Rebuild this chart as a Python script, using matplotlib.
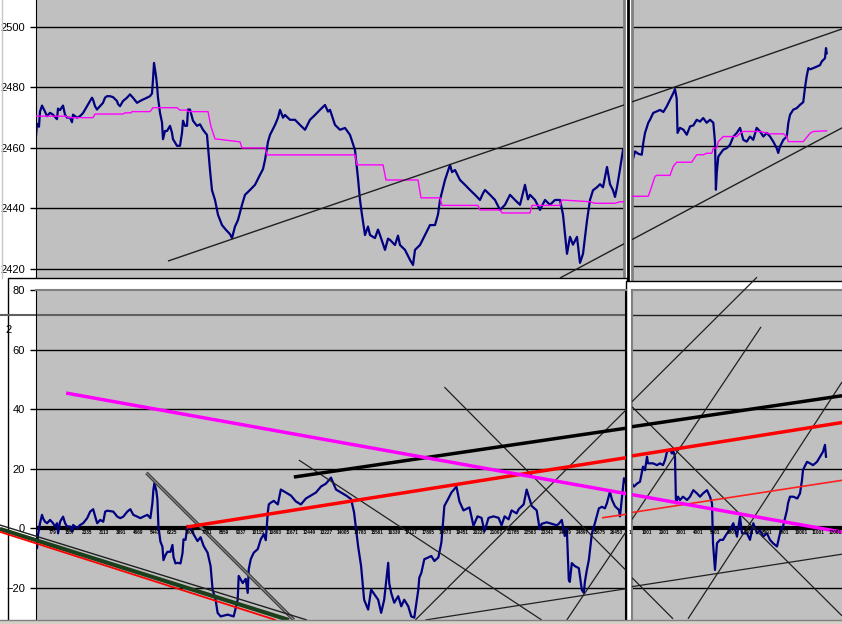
import matplotlib.pyplot as plt
from matplotlib.patches import Rectangle
from matplotlib.lines import Line2D

plt.rcParams['font.family'] = ['Liberation Sans', 'DejaVu Sans']

# ---- price panel, first session (bar index, price)
tl_x = [0, 46, 137, 183, 275, 412, 503, 641, 778, 961, 1007, 1098, 1236, 1327, 1419, 1556, 1647, 1693,
        1876, 2013, 2151, 2334, 2471, 2563, 2608, 2700, 2791, 2929, 3066, 3157, 3249, 3386, 3524, 3707,
        3752, 3844, 3981, 4164, 4301, 4439, 4622, 4759, 4896, 5079, 5217, 5308, 5354, 5400, 5491, 5537,
        5583, 5674, 5766, 5812, 5903, 5995, 6132, 6223, 6269, 6452, 6589, 6681, 6727, 6818, 6910, 6956,
        7047, 7184, 7367, 7505, 7642, 7825, 7962, 8054, 8191, 8328, 8511, 8694, 8877, 8969, 9106, 9244,
        9427, 9564, 9793, 10021, 10250, 10388, 10479, 10616, 10708, 10937, 11074, 11165, 11303, 11394,
        11623, 11852, 12081, 12309, 12538, 12767, 12996, 13225, 13362, 13453, 13682, 13911, 14140, 14369,
        14597, 14734, 14826, 14917, 15055, 15192, 15284, 15512, 15650, 15741, 15970, 16108, 16199, 16428,
        16565, 16657, 16885, 17114, 17252, 17343, 17572, 17801, 18029, 18258, 18396, 18487, 18716, 18945,
        19037, 19174, 19402, 19631, 19860, 20089, 20317, 20455, 20546, 20775, 21004, 21233, 21461, 21690,
        21919, 22148, 22376, 22514, 22605, 22834, 23063, 23292, 23520, 23749, 23978, 24115, 24298, 24436,
        24573, 24756, 24893, 25031, 25214, 25351, 25488, 25671, 25809, 25946, 26129, 26266, 26404, 26495,
        26587, 26724, 26861]
tl_price = [2464, 2468, 2467, 2472, 2474, 2472, 2470.5, 2471.6, 2471, 2469.5, 2473, 2472.5, 2474, 2471,
            2470, 2470, 2468.5, 2471, 2470, 2470.5, 2471.5, 2473.8, 2475.5, 2476.6, 2476, 2473.8, 2472.7,
            2473.8, 2474.9, 2476.6, 2477.1, 2477.1, 2476.8, 2475.5, 2474.5, 2473.8, 2475.5, 2476.6, 2477.7,
            2476.6, 2474.9, 2475.5, 2476, 2476.6, 2477.1, 2478, 2482.6, 2488.1, 2483.8, 2480.8, 2476.6,
            2471.6, 2468.4, 2462.9, 2465.6, 2465.6, 2467.3, 2465, 2462.9, 2460.7, 2460.7, 2465, 2469,
            2467.3, 2467.3, 2472.7, 2472.7, 2469, 2467.3, 2467.8, 2466, 2464.3, 2452.7, 2446, 2442.8,
            2437.9, 2434.5, 2432.9, 2431.5, 2430.2, 2434, 2436.2, 2441.2, 2444.5, 2446.1, 2447.8, 2451.1,
            2453, 2456, 2462, 2464.3, 2467.6, 2470, 2472.6, 2470, 2470.9, 2469.3, 2469.3, 2467.6, 2466,
            2469.3, 2470.9, 2472.6, 2474.2, 2472, 2472.6, 2467.6, 2466, 2466.6, 2464.3, 2459.3, 2450,
            2442.8, 2437.9, 2431.2, 2434, 2431.2, 2430.2, 2433, 2431.2, 2426.3, 2430, 2429.6, 2427.9, 2431,
            2427.9, 2426.3, 2423, 2421.3, 2426.3, 2427.9, 2431.2, 2434.5, 2434.5, 2438, 2442.8, 2449.4,
            2454.4, 2452, 2452.7, 2449.4, 2447.8, 2446.1, 2444.5, 2442.8, 2445, 2446.1, 2444.5, 2442.8,
            2439.5, 2441.2, 2444.5, 2442.8, 2441.2, 2447.8, 2443, 2444.5, 2442.8, 2439.5, 2442.8, 2441.2,
            2442.8, 2442.8, 2438, 2425, 2430.6, 2428, 2430.6, 2422, 2425, 2436, 2442.8, 2446, 2447, 2448,
            2447, 2453.7, 2448, 2446, 2443.8, 2447, 2453, 2459.3]
tl_avg_x = [0, 1373, 1464, 2608, 2700, 3981, 4073, 4347, 4393, 5217, 5354, 6452, 6589, 6910, 6956, 7871,
            8008, 8191, 9335, 9427, 10479, 10571, 14597, 14688, 15879, 16016, 17480, 17618, 18487, 18579,
            20226, 20317, 21233, 21324, 22605, 22697, 23978, 24069, 25351, 25580, 26495, 26724, 26907]
tl_avg = [2470.5, 2470.5, 2470, 2470, 2471.2, 2471.2, 2471.6, 2471.6, 2472, 2472, 2473.3, 2473.3, 2472.5,
          2472.5, 2472, 2472, 2467, 2463, 2462, 2460, 2460, 2457.7, 2457.7, 2454.4, 2454.4, 2449.4, 2449.4,
          2443.5, 2443.5, 2441, 2441, 2439.5, 2439.5, 2438.5, 2438.5, 2441, 2441, 2442.8, 2442.2, 2441.7,
          2441.7, 2442.2, 2442.2]

# ---- price panel, second session
tr_x = [180, 320, 510, 710, 800, 900, 1090, 1190, 1380, 1580, 1780, 1970, 2170, 2360, 2550, 2650, 2750,
        2800, 2940, 3140, 3340, 3530, 3720, 3920, 4110, 4300, 4500, 4700, 4890, 4990, 5040, 5090, 5180,
        5470, 5670, 5860, 6060, 6260, 6450, 6640, 6840, 7030, 7220, 7420, 7620, 7810, 8010, 8200, 8390,
        8590, 8680, 8780, 8980, 9180, 9270, 9370, 9560, 9760, 9950, 10140, 10240, 10340, 10440, 10540,
        10730, 10930, 11120, 11220, 11410, 11470, 11510]
tr_price = [2455.5, 2458.3, 2457.5, 2457.2, 2461.2, 2464.5, 2467.9, 2468.9, 2471.2, 2471.7, 2472.2,
            2471.5, 2473.4, 2475.6, 2477.8, 2479.2, 2476, 2464.5, 2466.2, 2465.6, 2463.9, 2466.7, 2467,
            2468.9, 2468.3, 2469.5, 2467.9, 2468.9, 2467.9, 2461.2, 2445.5, 2451.2, 2456.6, 2458.9, 2459.4,
            2460.5, 2463.3, 2464.5, 2466.2, 2462.2, 2461.6, 2463.3, 2462.2, 2466.2, 2465, 2463.3, 2464.5,
            2463.3, 2461.6, 2459.4, 2457.8, 2459.9, 2462.2, 2463.3, 2467.9, 2470.6, 2472.3, 2472.8, 2473.9,
            2474.8, 2479.5, 2483.4, 2486.2, 2485.8, 2486.2, 2486.7, 2487.2, 2488.4, 2489.5, 2492.9, 2491.2]
tr_avg_x = [180, 1090, 1190, 1480, 1580, 2360, 2550, 2750, 3620, 3720, 3920, 4300, 4500, 4800, 4890, 5090,
            5180, 5470, 6260, 6450, 6640, 7620, 8200, 8980, 9175, 9270, 10140, 10340, 10540, 10730, 11510]
tr_avg = [2443.3, 2443.3, 2444.9, 2449.9, 2450.3, 2450.3, 2453.3, 2454.7, 2454.7, 2455.5, 2457.2, 2457.2,
          2457.7, 2457.7, 2459.4, 2459.4, 2461.6, 2463.3, 2463.3, 2464.4, 2465, 2465, 2464.2, 2464.2,
          2463.3, 2461.6, 2461.6, 2463, 2464.4, 2465, 2465.2]

# ---- oscillator panel, first session
bl_x = [0, 46, 92, 183, 275, 320, 412, 503, 641, 778, 869, 961, 1007, 1098, 1236, 1327, 1419, 1556, 1647,
        1693, 1876, 2013, 2151, 2334, 2471, 2608, 2700, 2791, 2929, 3066, 3157, 3249, 3524, 3707, 3844,
        3981, 4164, 4301, 4439, 4622, 4759, 4896, 5079, 5217, 5308, 5354, 5400, 5491, 5537, 5583, 5674,
        5766, 5812, 5903, 5995, 6132, 6223, 6269, 6361, 6452, 6589, 6681, 6727, 6818, 6910, 7047, 7184,
        7367, 7505, 7642, 7825, 7962, 8054, 8191, 8282, 8420, 8740, 9015, 9198, 9244, 9427, 9564, 9655,
        9701, 9793, 9930, 10113, 10250, 10388, 10479, 10571, 10616, 10708, 10845, 11028, 11165, 11394,
        11623, 11852, 12081, 12309, 12538, 12767, 12996, 13225, 13453, 13682, 13911, 14140, 14369, 14506,
        14689, 14826, 14964, 15147, 15284, 15604, 15741, 15879, 16062, 16108, 16199, 16336, 16519, 16657,
        16794, 16977, 17114, 17252, 17435, 17480, 17572, 17709, 17892, 18029, 18167, 18350, 18487, 18624,
        18807, 18945, 19174, 19311, 19494, 19768, 19951, 20134, 20317, 20455, 20638, 20867, 21096, 21233,
        21370, 21553, 21690, 21919, 22011, 22239, 22376, 22605, 22834, 22971, 23063, 23292, 23520, 23749,
        23841, 23978, 24115, 24207, 24298, 24344, 24436, 24573, 24756, 24893, 24985, 25031, 25122, 25214,
        25351, 25488, 25671, 25809, 25946, 26037, 26175, 26266, 26404, 26587, 26632, 26724, 26815, 26907]
bl_osc = [-2.8, -6.7, -2.2, 1.7, 4.5, 3.4, 2.2, 1.7, 2.8, 1.7, 0.6, 1.7, -1.7, 2.2, 3.9, 1.7, 0.6, 0.6,
          -1.1, 1.1, 0, 1.1, 1.7, 3.4, 5.6, 6.4, 3.9, 1.7, 2.8, 2.2, 5.6, 5.9, 5.6, 3.9, 3.4, 3.9, 5.6, 6.4,
          4.5, 3.9, 3.4, 3.9, 4.5, 3.4, 8.4, 12.9, 15.2, 12.4, 9.6, 0.6, -4.5, -6.2, -10.7, -9, -7.9, -7.9,
          -5.6, -9.6, -11.8, -11.6, -11.8, -8.4, -3.7, -3.9, 0.8, 0, -2, -4.3, -3, -5.9, -8.2, -12.7, -20.6,
          -24, -28.4, -29.6, -29, -29.6, -24, -16, -18.4, -17, -21.7, -13.8, -10.4, -8.2, -7, -3.7, -2, -4,
          5.3, 8, 8.6, 9.2, 8, 13, 12, 11, 9, 8, 10, 11, 12, 14, 15, 17, 13, 12, 11, 9.8, 5.3, -6, -12.7,
          -24, -27.3, -20.6, -24, -28.4, -24, -11.6, -18.4, -21.7, -25, -22.8, -26.2, -24, -26.2, -29.6,
          -30, -20.6, -16.6, -15, -10.4, -9.8, -9.3, -11, -9.8, -4.8, 7.5, 10, 12, 14, 9, 6, 7, 0.8, 4,
          3.5, -1, 3.5, 4, 3.5, 1, 4, 3, 6, 5, 6.4, 8, 13, 7.5, 6, -0.3, 1.5, 2, 1.5, 1, 1.5, 2.8, -2.6, 0,
          -17.3, -18, -11.7, -12.7, -13.4, -20.7, -21.7, -18, -14, -10.6, -1.7, 1.7, 6.7, 7.2, 6.7, 8.4,
          12.3, 9.6, 7.4, 6.1, 4, 10.6, 16.8, 15]

# ---- oscillator panel, second session
br_x = [140, 257, 432, 607, 783, 899, 1016, 1075, 1191, 1367, 1600, 1775, 1951, 2067, 2184, 2359, 2476,
        2535, 2651, 2709, 2827, 2943, 3119, 3352, 3527, 3720, 3936, 4111, 4287, 4520, 4695, 4812, 4871,
        4987, 5104, 5279, 5455, 5688, 5863, 6056, 6271, 6447, 6564, 6856, 7031, 7224, 7440, 7615, 7791,
        8024, 8199, 8375, 8608, 8783, 8959, 9191, 9250, 9367, 9560, 9794, 9951, 10068, 10127, 10361,
        10535, 10710, 10944, 11119, 11294, 11411, 11469]
br_osc = [15, 14, 15, 15.6, 20.7, 19.5, 24, 21.8, 21.8, 21.8, 21.2, 21.8, 21.2, 22.9, 25.7, 26.3, 25.1,
          26.3, 24, 8.4, 10.6, 9.5, 10.6, 9.5, 10.6, 12.8, 11.7, 10.6, 11.7, 12.8, 10.6, 8.4, -5, -14, -5,
          -3.9, -3.9, -1.7, -0.6, 1.7, -2.8, 3.9, -1.7, -1.7, -3.9, 1.7, -1.7, -0.6, -2.8, -1.7, -3.9, -5,
          -6.1, -1.7, 0.6, 6.1, 8.4, 10.6, 10.6, 10, 11.7, 16.2, 19.6, 22.3, 21.8, 21.2, 22.3, 24, 25.7,
          28, 24]

# bar-number labels printed along the zero line
bl_ticks = [779, 1557, 2335, 3113, 3891, 4669, 5447, 6225, 7003, 7781, 8559, 9337, 10115, 10893, 11671,
            12449, 13227, 14005, 14783, 15561, 16339, 17117, 17895, 18673, 19451, 20229, 21007, 21785,
            22563, 23341, 24119, 24897, 25675, 26453]
br_ticks = [1, 1001, 2001, 3001, 4001, 5001, 6001, 7001, 8001, 9001, 10001, 11001, 12001]

price_ticks = [2420, 2440, 2460, 2480, 2500]
osc_ticks = [-20, 0, 20, 40, 60, 80]

# hand-drawn trend lines: ((x0, x1), (y0, y1))
tl_lines = [((6040, 26907), (2422.6, 2474.2)), ((23978, 26907), (2417.0, 2428.3))]
tr_lines = [((140, 12404), (2474.9, 2499.3)), ((140, 12404), (2428.8, 2466.2))]
bl_thin = [((11989, 23063), (22.9, -30.8)), ((18624, 26998), (47.4, -14.8)),
           ((26998, 17297), (40.4, -30.8)), ((26998, 24207), (-0.2, -30.8)),
           ((17755, 26998), (-30.8, -20.2))]
br_thin = [((140, 2535), (-16.6, -30.4)), ((7674, 140), (67.6, 3.0)), ((3411, 12404), (-30.4, 49.1)),
           ((140, 12404), (-19.6, -8.7)), ((140, 12404), (40.8, -29.4))]
br_thin_free = [((7440, 140), (84.3, 42.5))]
bl_magenta = ((1373, 27000), (45.4, 11.5))
br_magenta = ((140, 12404), (11.3, -1.3))
bl_red = ((6864, 27000), (0.4, 23.8))
br_red = ((140, 12404), (24.3, 35.5))
bl_red_thin = ((25809, 27000), (3.5, 4.8))
br_red_thin = ((140, 12404), (5.3, 16.1))
bl_black = ((11760, 27000), (17.2, 33.7))
br_black = ((140, 12404), (34.1, 44.5))
bl_gray = ((5034, 11760), (18.6, -30.8))
band_black = ((-1647, 12355), (1.1, -30.8))
band_green = ((-1647, 11532), (-0.2, -30.8))
band_red = ((-1647, 10937), (-1.2, -30.8))

W, H = 842, 624


def box(x0, y0, x1, y1):
    return [x0 / W, 1 - y1 / H, (x1 - x0) / W, (y1 - y0) / H]


def seg(ax, line, **kw):
    ax.plot(line[0], line[1], solid_capstyle='butt', **kw)


fig = plt.figure(figsize=(W / 100, H / 100), dpi=100, facecolor='white')

tl = fig.add_axes(box(36, 0, 624, 278))
tr = fig.add_axes(box(632, 0, 842, 282))
tl.set_xlim(0, 26907)
tl.set_ylim(2417.0, 2508.9)
tr.set_xlim(140, 12404)
tr.set_ylim(2414.6, 2509.0)

for ax in (tl, tr):
    ax.set_facecolor('#c0c0c0')
    ax.set_xticks([])
    for g in price_ticks:
        ax.axhline(g, color='black', lw=1, zorder=1)
    for s in ax.spines.values():
        s.set_visible(False)

tl.set_yticks(price_ticks)
tl.tick_params(axis='y', length=4, width=1, pad=4, labelsize=8)
tl.spines['left'].set_visible(True)
tl.spines['left'].set_color('black')
tl.spines['right'].set_visible(True)
tl.spines['right'].set_color('#808080')
tl.spines['right'].set_linewidth(2)
tr.set_yticks([])
tr.spines['left'].set_visible(True)
tr.spines['left'].set_color('#808080')
tr.spines['left'].set_linewidth(2)

tl.plot(tl_x, tl_price, color='#000080', lw=1.6, zorder=2)
tl.plot(tl_avg_x, tl_avg, color='#ff00ff', lw=1, zorder=3)
tr.plot(tr_x, tr_price, color='#000080', lw=1.6, zorder=2)
tr.plot(tr_avg_x, tr_avg, color='#ff00ff', lw=1, zorder=3)
for ln in tl_lines:
    seg(tl, ln, color='#202020', lw=1, zorder=4)
for ln in tr_lines:
    seg(tr, ln, color='#202020', lw=1, zorder=4)

# window frames behind the lower charts
fig.add_artist(Line2D([628 / W, 628 / W], [1, 1 - 281 / H], color='black', lw=2, zorder=1))
fig.add_artist(Line2D([1.5 / W, 1.5 / W], [1, 1 - 278 / H], color='#c8c8c8', lw=1, zorder=1))
fig.add_artist(Rectangle((8 / W, -0.01), 619 / W, (624 - 278) / H + 0.01, facecolor='white',
                         edgecolor='black', lw=1, zorder=1))
fig.add_artist(Rectangle((626 / W, -0.01), 220 / W, (624 - 281) / H + 0.01, facecolor='white',
                         edgecolor='black', lw=1, zorder=1))
fig.text(5 / W, 1 - 330 / H, '2', fontsize=8, va='center', ha='left', zorder=1.5)

bl = fig.add_axes(box(36, 290, 626, 620))
br = fig.add_axes(box(632, 290, 842, 620))
bl.set_zorder(2)
br.set_zorder(2)
bl.set_xlim(0, 26907)
br.set_xlim(140, 12404)
for ax in (bl, br):
    ax.set_ylim(-30.8, 80)
    ax.set_facecolor('#c0c0c0')
    ax.set_xticks([])
    for g in osc_ticks[:1] + osc_ticks[2:5]:
        ax.axhline(g, color='black', lw=1, zorder=1)
    ax.axhline(0, color='black', lw=3, zorder=1)
    for s in ax.spines.values():
        s.set_visible(False)
    ax.spines['top'].set_visible(True)
    ax.spines['top'].set_color('#808080')
    ax.spines['top'].set_linewidth(1.5)

bl.set_yticks(osc_ticks)
bl.tick_params(axis='y', length=4, width=1, pad=4, labelsize=8)
bl.spines['left'].set_visible(True)
bl.spines['left'].set_color('black')
bl.spines['right'].set_visible(True)
bl.spines['right'].set_color('black')
bl.spines['right'].set_linewidth(1.5)
br.set_yticks([])
br.spines['left'].set_visible(True)
br.spines['left'].set_color('#808080')
br.spines['left'].set_linewidth(1.5)

for t in bl_ticks:
    bl.text(t, -1.3, str(t), fontsize=3.3, fontweight='bold', ha='center', va='center', zorder=5)
for t in br_ticks:
    br.text(t, -1.3, str(t), fontsize=3.3, fontweight='bold', ha='center', va='center', zorder=5)

# stray level line running across both lower windows
bl.plot([-1647, 26907], [71.6, 71.6], color='#606060', lw=1.5, clip_on=False, zorder=1)
br.axhline(71.6, color='#202020', lw=1, zorder=1)

bl.plot(bl_x, bl_osc, color='#000080', lw=1.6, zorder=2)
br.plot(br_x, br_osc, color='#000080', lw=1.6, zorder=2)

for ln in bl_thin:
    seg(bl, ln, color='#202020', lw=0.9, zorder=3)
for ln in br_thin:
    seg(br, ln, color='#202020', lw=0.9, zorder=3)
for ln in br_thin_free:
    seg(br, ln, color='#202020', lw=0.9, zorder=3, clip_on=False)

seg(bl, bl_gray, color='#404040', lw=2.5, zorder=3)
seg(bl, bl_gray, color='#909090', lw=0.7, zorder=3)
seg(bl, band_black, color='#202020', lw=1, zorder=3, clip_on=False)
seg(bl, band_green, color='#1c401c', lw=3, zorder=3, clip_on=False)
seg(bl, band_red, color='#ff0000', lw=1.3, zorder=3, clip_on=False)

seg(bl, bl_red_thin, color='#ff2020', lw=1.2, zorder=4)
seg(br, br_red_thin, color='#ff2020', lw=1.2, zorder=4)
seg(bl, bl_black, color='black', lw=2.5, zorder=4)
seg(br, br_black, color='black', lw=2.5, zorder=4)
seg(bl, bl_red, color='#ff0000', lw=2.5, zorder=4)
seg(br, br_red, color='#ff0000', lw=2.5, zorder=4)
seg(bl, bl_magenta, color='#ff00ff', lw=2.5, zorder=4)
seg(br, br_magenta, color='#ff00ff', lw=2.5, zorder=4)

fig.add_artist(Rectangle((0, 0), 1, 4 / H, facecolor='#d4d0c8', edgecolor='none', zorder=6))
fig.add_artist(Line2D([0, 1], [4 / H, 4 / H], color='#808080', lw=1, zorder=6))

fig.savefig('out.png', dpi=100, facecolor='white')
